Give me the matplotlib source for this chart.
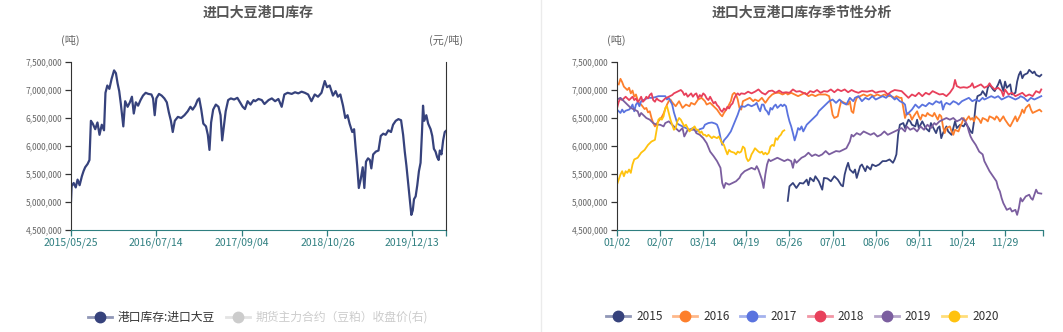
import matplotlib
matplotlib.use("Agg")
import matplotlib.pyplot as plt
import numpy as np
import pandas as pd
from matplotlib.lines import Line2D
from matplotlib.ticker import FuncFormatter

plt.rcParams["font.family"] = ["Noto Sans CJK SC", "DejaVu Sans"]

# 进口大豆港口库存, 百万吨
stock_dates = [
    "2015-05-25", "2015-05-28", "2015-06-07", "2015-06-17", "2015-06-26", "2015-07-06",
    "2015-07-17", "2015-07-25", "2015-08-02", "2015-08-14", "2015-08-23", "2015-08-30",
    "2015-09-08", "2015-09-20", "2015-10-01", "2015-10-11", "2015-10-22", "2015-11-02",
    "2015-11-09", "2015-11-18", "2015-11-28", "2015-12-09", "2015-12-21", "2015-12-30",
    "2016-01-07", "2016-01-15", "2016-01-23", "2016-02-04", "2016-02-13", "2016-02-25",
    "2016-03-07", "2016-03-17", "2016-03-26", "2016-04-05", "2016-04-16", "2016-04-28",
    "2016-05-10", "2016-05-23", "2016-06-05", "2016-06-20", "2016-06-28", "2016-07-06",
    "2016-07-14", "2016-07-27", "2016-08-09", "2016-08-22", "2016-09-03", "2016-09-13",
    "2016-09-23", "2016-10-02", "2016-10-12", "2016-10-27", "2016-11-12", "2016-11-28",
    "2016-12-14", "2016-12-27", "2017-01-07", "2017-01-20", "2017-01-31", "2017-02-08",
    "2017-02-18", "2017-02-28", "2017-03-13", "2017-03-22", "2017-03-30", "2017-04-07",
    "2017-04-17", "2017-04-30", "2017-05-13", "2017-05-23", "2017-05-31", "2017-06-08",
    "2017-06-17", "2017-06-29", "2017-07-12", "2017-07-28", "2017-08-13", "2017-08-26",
    "2017-09-08", "2017-09-19", "2017-10-02", "2017-10-16", "2017-10-31", "2017-11-08",
    "2017-11-24", "2017-12-10", "2017-12-23", "2018-01-12", "2018-01-28", "2018-02-13",
    "2018-03-01", "2018-03-17", "2018-03-30", "2018-04-15", "2018-05-05", "2018-05-21",
    "2018-06-06", "2018-06-22", "2018-07-08", "2018-07-24", "2018-08-09", "2018-08-25",
    "2018-09-10", "2018-09-27", "2018-10-13", "2018-10-24", "2018-11-06", "2018-11-22",
    "2018-12-05", "2018-12-16", "2018-12-28", "2019-01-10", "2019-01-21", "2019-02-01",
    "2019-02-11", "2019-02-24", "2019-03-05", "2019-03-12", "2019-03-20", "2019-03-28",
    "2019-04-06", "2019-04-16", "2019-04-24", "2019-05-02", "2019-05-12", "2019-05-21",
    "2019-05-28", "2019-06-06", "2019-06-19", "2019-07-02", "2019-07-13", "2019-07-25",
    "2019-08-06", "2019-08-19", "2019-09-01", "2019-09-11", "2019-09-24", "2019-10-07",
    "2019-10-20", "2019-10-30", "2019-11-07", "2019-11-15", "2019-11-23", "2019-12-01",
    "2019-12-09", "2019-12-16", "2019-12-22", "2019-12-30", "2020-01-07", "2020-01-15",
    "2020-01-23", "2020-01-30", "2020-02-04", "2020-02-10", "2020-02-20", "2020-02-29",
    "2020-03-12", "2020-03-20", "2020-03-28", "2020-04-05", "2020-04-13", "2020-04-20",
    "2020-04-26", "2020-05-04", "2020-05-12", "2020-05-20", "2020-05-26",
]
stock_mt = [
    5.01, 5.28, 5.34, 5.26, 5.40, 5.30,
    5.46, 5.55, 5.62, 5.68, 5.75, 6.45,
    6.40, 6.30, 6.42, 6.20, 6.38, 6.28,
    6.95, 7.08, 7.02, 7.20, 7.35, 7.30,
    7.12, 6.98, 6.75, 6.35, 6.80, 6.70,
    6.78, 6.88, 6.58, 6.78, 6.72, 6.82,
    6.90, 6.95, 6.93, 6.92, 6.85, 6.55,
    6.85, 6.93, 6.90, 6.85, 6.78, 6.60,
    6.45, 6.25, 6.45, 6.52, 6.50, 6.55,
    6.62, 6.70, 6.65, 6.72, 6.82, 6.85,
    6.65, 6.40, 6.35, 6.20, 5.93, 6.42,
    6.65, 6.74, 6.70, 6.55, 6.10, 6.35,
    6.62, 6.82, 6.85, 6.83, 6.86, 6.78,
    6.70, 6.66, 6.80, 6.74, 6.82, 6.80,
    6.84, 6.82, 6.75, 6.82, 6.85, 6.80,
    6.84, 6.70, 6.92, 6.95, 6.93, 6.96,
    6.94, 6.97, 6.95, 6.92, 6.80, 6.92,
    6.88, 6.95, 7.16, 7.05, 7.08, 6.90,
    6.98, 6.88, 6.92, 6.72, 6.50, 6.55,
    6.40, 6.25, 6.30, 5.98, 5.65, 5.25,
    5.40, 5.62, 5.25, 5.72, 5.78, 5.75,
    5.60, 5.85, 5.90, 5.92, 6.18, 6.22,
    6.20, 6.28, 6.25, 6.38, 6.45, 6.48,
    6.46, 6.20, 5.90, 5.65, 5.35, 5.05,
    4.77, 4.85, 5.05, 5.10, 5.30, 5.55,
    5.70, 6.25, 6.72, 6.45, 6.55, 6.40,
    6.30, 6.18, 5.95, 5.90, 5.80, 5.75,
    5.92, 5.85, 6.10, 6.25, 6.27,
]
date_ticks = ["2015-05-25", "2016-07-14", "2017-09-04", "2018-10-26", "2019-12-13"]
date_end = "2020-05-26"

# 季节性: (交易日序号, 百万吨)
season_labels = ["01/02", "02/07", "03/14", "04/19", "05/26",
                 "07/01", "08/06", "09/11", "10/24", "11/29"]
season_len = 247

s2015 = [
    (99, 5.02), (100, 5.28), (102, 5.34), (104, 5.25), (106, 5.34), (108, 5.33), (110, 5.40),
    (111, 5.30), (112, 5.43), (114, 5.37), (115, 5.46), (117, 5.37), (119, 5.22), (120, 5.43),
    (122, 5.42), (124, 5.37), (126, 5.46), (128, 5.40), (130, 5.30), (131, 5.28), (132, 5.49),
    (133, 5.61), (134, 5.70), (135, 5.58), (137, 5.52), (138, 5.58), (139, 5.43), (141, 5.64),
    (142, 5.67), (144, 5.55), (145, 5.64), (147, 5.58), (148, 5.67), (150, 5.64), (152, 5.67),
    (154, 5.73), (156, 5.73), (158, 5.76), (160, 5.70), (161, 5.76), (162, 5.85), (163, 6.20),
    (164, 6.38), (166, 6.41), (167, 6.32), (169, 6.47), (170, 6.44), (171, 6.38), (173, 6.35),
    (174, 6.47), (175, 6.32), (177, 6.44), (178, 6.38), (179, 6.32), (181, 6.26), (182, 6.41),
    (183, 6.35), (185, 6.23), (186, 6.32), (187, 6.35), (188, 6.14), (189, 6.23), (191, 6.35),
    (192, 6.26), (194, 6.20), (195, 6.32), (196, 6.44), (197, 6.32), (199, 6.38), (201, 6.35),
    (202, 6.41), (204, 6.32), (205, 6.26), (206, 6.23), (207, 6.44), (208, 6.74), (209, 6.89),
    (211, 6.92), (212, 6.98), (214, 6.89), (215, 7.04), (216, 7.10), (218, 7.01), (219, 6.98),
    (221, 7.10), (222, 7.18), (224, 6.98), (225, 7.15), (226, 7.04), (228, 7.10), (229, 6.92),
    (231, 6.95), (232, 7.15), (233, 7.27), (234, 7.33), (235, 7.21), (236, 7.27), (238, 7.30),
    (239, 7.36), (241, 7.30), (242, 7.33), (243, 7.27), (245, 7.24), (246, 7.27),
]
s2016 = [
    (1, 7.10), (2, 7.20), (3, 7.14), (4, 7.06), (5, 7.03), (6, 7.00), (7, 7.04), (8, 6.94),
    (9, 6.99), (10, 6.88), (11, 6.92), (12, 6.82), (13, 6.76), (14, 6.74), (15, 6.70), (16, 6.66),
    (17, 6.68), (18, 6.60), (19, 6.62), (20, 6.50), (21, 6.41), (22, 6.35), (23, 6.40), (24, 6.44),
    (26, 6.52), (27, 6.58), (28, 6.66), (29, 6.74), (30, 6.80), (31, 6.83), (32, 6.78), (34, 6.71),
    (36, 6.80), (38, 6.68), (40, 6.74), (42, 6.71), (43, 6.77), (45, 6.74), (47, 6.83), (49, 6.86),
    (51, 6.80), (52, 6.74), (54, 6.77), (56, 6.71), (58, 6.65), (60, 6.56), (61, 6.53), (62, 6.59),
    (64, 6.68), (66, 6.80), (67, 6.92), (68, 6.95), (69, 6.92), (70, 6.83), (71, 6.68), (72, 6.65),
    (73, 6.80), (75, 6.83), (77, 6.86), (79, 6.80), (80, 6.83), (82, 6.80), (84, 6.86), (86, 6.77),
    (88, 6.86), (90, 6.92), (92, 6.95), (94, 6.95), (96, 6.92), (98, 6.95), (99, 6.92), (101, 6.95),
    (103, 6.92), (105, 6.89), (107, 6.92), (109, 6.95), (111, 6.89), (113, 6.92), (115, 6.89),
    (117, 6.92), (119, 6.92), (121, 6.92), (123, 6.89), (124, 6.74), (125, 6.56), (126, 6.50),
    (128, 6.53), (129, 6.68), (130, 6.80), (132, 6.77), (134, 6.74), (135, 6.80), (136, 6.62),
    (137, 6.59), (138, 6.77), (139, 6.86), (141, 6.89), (143, 6.92), (145, 6.89), (147, 6.92),
    (149, 6.89), (151, 6.92), (153, 6.89), (155, 6.92), (157, 6.89), (159, 6.89), (161, 6.86),
    (162, 6.89), (164, 6.86), (165, 6.86), (166, 6.68), (167, 6.50), (168, 6.59), (170, 6.56),
    (171, 6.47), (172, 6.53), (174, 6.62), (175, 6.53), (176, 6.47), (177, 6.56), (179, 6.53),
    (180, 6.59), (181, 6.56), (183, 6.53), (184, 6.59), (185, 6.53), (186, 6.47), (187, 6.56),
    (188, 6.53), (189, 6.35), (190, 6.23), (191, 6.32), (193, 6.35), (194, 6.26), (195, 6.20),
    (196, 6.29), (198, 6.26), (199, 6.35), (200, 6.41), (201, 6.50), (202, 6.44), (204, 6.53),
    (205, 6.47), (206, 6.50), (207, 6.44), (208, 6.53), (210, 6.47), (211, 6.41), (212, 6.50),
    (214, 6.47), (215, 6.44), (216, 6.53), (218, 6.50), (219, 6.47), (220, 6.53), (221, 6.50),
    (222, 6.44), (224, 6.53), (225, 6.47), (227, 6.38), (228, 6.35), (229, 6.41), (231, 6.53),
    (232, 6.44), (234, 6.56), (235, 6.65), (236, 6.59), (237, 6.68), (239, 6.74), (240, 6.65),
    (241, 6.59), (243, 6.62), (245, 6.65), (246, 6.62),
]
s2017 = [
    (0, 6.65), (1, 6.62), (2, 6.59), (3, 6.65), (4, 6.60), (5, 6.63), (7, 6.65), (8, 6.68),
    (9, 6.74), (10, 6.62), (11, 6.74), (12, 6.78), (13, 6.71), (14, 6.80), (16, 6.83), (18, 6.86),
    (20, 6.86), (22, 6.87), (24, 6.89), (26, 6.89), (28, 6.89), (29, 6.83), (30, 6.86), (31, 6.80),
    (32, 6.74), (33, 6.60), (34, 6.50), (35, 6.40), (36, 6.38), (38, 6.35), (40, 6.32), (42, 6.29),
    (44, 6.32), (46, 6.26), (48, 6.30), (50, 6.32), (51, 6.38), (53, 6.41), (55, 6.42), (57, 6.40),
    (58, 6.38), (59, 6.30), (60, 6.15), (61, 6.02), (62, 6.10), (64, 6.17), (66, 6.26), (68, 6.41),
    (70, 6.56), (71, 6.65), (72, 6.71), (74, 6.70), (76, 6.74), (78, 6.71), (80, 6.74), (81, 6.77),
    (82, 6.68), (83, 6.62), (84, 6.74), (85, 6.74), (86, 6.65), (87, 6.62), (88, 6.56), (89, 6.68),
    (90, 6.65), (91, 6.71), (92, 6.74), (93, 6.68), (94, 6.71), (95, 6.74), (96, 6.71), (97, 6.74),
    (98, 6.71), (99, 6.56), (100, 6.44), (101, 6.35), (102, 6.23), (103, 6.10), (104, 6.20),
    (105, 6.32), (106, 6.29), (107, 6.35), (108, 6.26), (109, 6.32), (110, 6.38), (112, 6.44),
    (114, 6.50), (116, 6.56), (117, 6.62), (119, 6.68), (121, 6.74), (123, 6.80), (125, 6.83),
    (127, 6.77), (129, 6.83), (131, 6.77), (133, 6.74), (135, 6.86), (137, 6.80), (138, 6.86),
    (140, 6.89), (142, 6.80), (144, 6.86), (146, 6.83), (148, 6.89), (150, 6.83), (152, 6.86),
    (154, 6.89), (156, 6.86), (158, 6.92), (160, 6.86), (161, 6.83), (162, 6.86), (164, 6.80),
    (166, 6.77), (167, 6.74), (168, 6.56), (169, 6.59), (171, 6.65), (173, 6.74), (175, 6.68),
    (177, 6.74), (179, 6.71), (181, 6.77), (183, 6.74), (185, 6.80), (187, 6.77), (188, 6.80),
    (189, 6.65), (190, 6.74), (191, 6.77), (193, 6.74), (195, 6.80), (197, 6.77), (198, 6.74),
    (200, 6.80), (202, 6.83), (204, 6.86), (206, 6.80), (208, 6.83), (210, 6.80), (212, 6.86),
    (213, 6.83), (215, 6.86), (217, 6.89), (219, 6.86), (221, 6.89), (223, 6.83), (225, 6.86),
    (227, 6.89), (229, 6.86), (231, 6.83), (233, 6.86), (234, 6.89), (236, 6.86), (238, 6.80),
    (240, 6.86), (242, 6.83), (244, 6.86), (246, 6.89),
]
s2018 = [
    (0, 6.67), (1, 6.79), (2, 6.85), (3, 6.82), (4, 6.85), (5, 6.88), (6, 6.85), (7, 6.82),
    (8, 6.85), (9, 6.88), (10, 6.82), (11, 6.85), (12, 6.79), (13, 6.82), (14, 6.88), (15, 6.79),
    (16, 6.82), (17, 6.88), (18, 6.85), (19, 6.91), (20, 6.94), (21, 6.82), (22, 6.79), (23, 6.85),
    (24, 6.82), (26, 6.79), (27, 6.82), (28, 6.85), (30, 6.88), (32, 6.91), (33, 6.94), (35, 6.97),
    (37, 7.00), (38, 6.97), (39, 6.91), (40, 6.94), (41, 6.88), (42, 6.91), (43, 6.94), (44, 6.88),
    (45, 6.92), (46, 6.94), (47, 6.85), (48, 6.91), (49, 6.88), (50, 6.94), (51, 6.91), (52, 6.85),
    (53, 6.82), (54, 6.88), (55, 6.82), (56, 6.76), (57, 6.79), (58, 6.73), (59, 6.70), (60, 6.64),
    (61, 6.61), (62, 6.67), (63, 6.64), (64, 6.70), (65, 6.67), (66, 6.73), (67, 6.76), (68, 6.85),
    (69, 6.91), (70, 6.94), (71, 6.91), (72, 6.94), (74, 6.93), (76, 6.97), (78, 6.94), (80, 6.97),
    (82, 7.01), (84, 6.95), (86, 6.92), (88, 6.98), (90, 6.99), (92, 6.95), (94, 6.99), (96, 6.95),
    (98, 6.96), (100, 6.95), (102, 7.01), (104, 6.97), (106, 6.98), (108, 6.95), (110, 6.92),
    (112, 6.98), (114, 6.96), (116, 7.00), (118, 6.95), (120, 6.98), (122, 6.97), (124, 7.01),
    (126, 6.96), (128, 7.01), (130, 6.98), (132, 7.01), (134, 6.96), (136, 7.00), (138, 6.97),
    (140, 6.95), (142, 6.98), (145, 6.97), (148, 6.99), (150, 6.95), (152, 6.97), (155, 6.98),
    (157, 6.92), (159, 6.97), (161, 7.00), (163, 6.99), (165, 6.98), (167, 6.92), (169, 6.86),
    (171, 6.92), (173, 6.89), (175, 6.95), (177, 6.89), (179, 6.95), (181, 6.92), (183, 6.98),
    (185, 6.95), (187, 6.92), (189, 6.93), (191, 6.89), (193, 6.95), (195, 7.04), (196, 7.18),
    (197, 7.07), (199, 7.04), (201, 7.05), (203, 7.04), (205, 7.07), (206, 7.12), (207, 7.04),
    (209, 7.07), (211, 7.10), (213, 7.04), (215, 7.07), (216, 7.12), (217, 7.07), (219, 7.01),
    (221, 7.04), (223, 6.98), (224, 6.89), (225, 7.01), (227, 6.92), (229, 6.95), (231, 6.89),
    (233, 6.92), (235, 6.95), (237, 6.89), (239, 6.92), (241, 6.89), (243, 6.98), (245, 6.95),
    (246, 7.01),
]
s2019 = [
    (0, 6.83), (2, 6.86), (4, 6.80), (6, 6.74), (8, 6.68), (10, 6.65), (12, 6.62), (13, 6.53),
    (14, 6.59), (16, 6.53), (17, 6.50), (19, 6.47), (21, 6.41), (23, 6.38), (25, 6.38), (27, 6.35),
    (28, 6.41), (30, 6.44), (32, 6.38), (34, 6.32), (36, 6.26), (38, 6.32), (39, 6.17), (41, 6.29),
    (43, 6.29), (45, 6.29), (46, 6.23), (48, 6.20), (50, 6.14), (52, 6.05), (54, 5.90), (56, 5.82),
    (58, 5.73), (60, 5.61), (61, 5.34), (62, 5.25), (63, 5.34), (65, 5.31), (67, 5.34), (69, 5.37),
    (71, 5.43), (72, 5.49), (74, 5.55), (76, 5.58), (78, 5.61), (80, 5.58), (81, 5.64), (82, 5.58),
    (83, 5.49), (84, 5.40), (85, 5.25), (86, 5.49), (87, 5.67), (88, 5.76), (89, 5.73), (91, 5.76),
    (93, 5.79), (95, 5.76), (97, 5.73), (99, 5.76), (101, 5.73), (102, 5.61), (103, 5.76),
    (104, 5.70), (105, 5.73), (107, 5.79), (109, 5.82), (111, 5.88), (113, 5.82), (115, 5.85),
    (117, 5.82), (119, 5.85), (121, 5.91), (123, 5.85), (125, 5.88), (127, 5.91), (129, 5.90),
    (131, 5.93), (133, 5.96), (135, 6.08), (136, 6.20), (137, 6.17), (139, 6.23), (141, 6.20),
    (143, 6.26), (145, 6.23), (147, 6.20), (149, 6.23), (151, 6.17), (153, 6.20), (155, 6.26),
    (157, 6.20), (159, 6.23), (161, 6.26), (163, 6.29), (165, 6.32), (167, 6.26), (168, 6.35),
    (170, 6.29), (172, 6.32), (174, 6.26), (176, 6.35), (178, 6.29), (180, 6.38), (182, 6.32),
    (184, 6.41), (185, 6.38), (187, 6.44), (189, 6.47), (191, 6.50), (193, 6.47), (195, 6.50),
    (197, 6.44), (199, 6.47), (200, 6.50), (202, 6.44), (203, 6.38), (204, 6.26), (205, 6.17),
    (206, 6.11), (208, 6.02), (209, 5.96), (210, 5.90), (212, 5.85), (213, 5.73), (214, 5.67),
    (216, 5.55), (218, 5.46), (220, 5.37), (221, 5.25), (222, 5.19), (223, 5.07), (224, 4.98),
    (226, 4.86), (228, 4.89), (229, 4.83), (231, 4.86), (232, 4.77), (233, 4.89), (234, 5.07),
    (235, 5.01), (237, 5.10), (239, 5.13), (240, 5.07), (241, 5.04), (242, 5.13), (243, 5.22),
    (244, 5.16), (246, 5.15),
]
s2020 = [
    (0, 5.31), (1, 5.40), (2, 5.49), (3, 5.55), (4, 5.46), (5, 5.55), (6, 5.52), (7, 5.58),
    (8, 5.52), (9, 5.67), (10, 5.76), (12, 5.79), (14, 5.88), (16, 5.93), (18, 6.02), (20, 6.08),
    (22, 6.11), (23, 6.29), (24, 6.47), (25, 6.50), (26, 6.47), (27, 6.53), (28, 6.68), (29, 6.71),
    (30, 6.59), (31, 6.47), (32, 6.38), (33, 6.29), (34, 6.32), (35, 6.44), (36, 6.50), (37, 6.47),
    (38, 6.41), (39, 6.35), (40, 6.38), (41, 6.32), (42, 6.26), (43, 6.29), (44, 6.32), (45, 6.35),
    (46, 6.29), (47, 6.29), (48, 6.23), (49, 6.26), (50, 6.20), (51, 6.20), (52, 6.17), (53, 6.20),
    (54, 6.17), (55, 6.14), (56, 6.17), (58, 6.14), (59, 6.17), (60, 6.11), (61, 6.05), (62, 6.02),
    (63, 5.93), (64, 5.85), (65, 5.93), (66, 5.90), (68, 5.88), (69, 5.85), (70, 5.90), (71, 5.88),
    (72, 5.90), (73, 5.99), (74, 5.96), (75, 5.79), (76, 5.73), (77, 5.76), (78, 5.85), (79, 5.90),
    (80, 5.96), (81, 5.93), (82, 5.90), (83, 5.88), (84, 5.90), (85, 5.85), (86, 5.88), (87, 5.85),
    (88, 5.88), (89, 5.99), (90, 6.02), (91, 6.00), (92, 6.14), (93, 6.11), (94, 6.17), (95, 6.20),
    (96, 6.26), (97, 6.28),
]
years = ["2015", "2016", "2017", "2018", "2019", "2020"]
year_series = [s2015, s2016, s2017, s2018, s2019, s2020]
year_colors = ["#36427c", "#fd7f2c", "#5a73df", "#e8405b", "#7b5e9f", "#ffc20e"]

W, H = 1063, 332
AXIS_DARK = "#333333"
AXIS_TEAL = "#2f7f80"
LABEL_GRAY = "#666666"


def px(x, y):
    return x / W, 1 - y / H


def style_axes(ax):
    ax.spines["top"].set_visible(False)
    ax.spines["right"].set_visible(False)
    ax.spines["left"].set_color(AXIS_DARK)
    ax.spines["bottom"].set_color(AXIS_TEAL)
    ax.set_ylim(4.5e6, 7.5e6)
    ax.set_yticks(np.arange(4.5e6, 7.51e6, 5e5))
    ax.yaxis.set_major_formatter(FuncFormatter(lambda v, p: f"{v:,.0f}"))
    ax.tick_params(axis="y", labelsize=6, labelcolor=LABEL_GRAY, color=AXIS_DARK,
                   length=4, width=0.9, pad=2.5)
    ax.tick_params(axis="x", labelsize=7.5, labelcolor=AXIS_TEAL, color=AXIS_TEAL,
                   length=4, width=0.9, pad=1.5)


def legend_item(fig, x, y, color, text, text_color):
    fig.add_artist(Line2D([x / W, (x + 24) / W], [1 - y / H] * 2, color=color,
                          alpha=0.55, lw=2, transform=fig.transFigure))
    fig.add_artist(Line2D([(x + 12) / W], [1 - y / H], color=color, marker="o",
                          markersize=7.5, lw=0, transform=fig.transFigure))
    fig.text((x + 30) / W, 1 - y / H, text, color=text_color, fontsize=8.5,
             ha="left", va="center")


fig = plt.figure(figsize=(W / 100, H / 100), dpi=100)

# 左: 库存走势
ax1 = fig.add_axes([71 / W, 1 - 230 / H, 375 / W, 168 / H])
style_axes(ax1)
ax1.plot(pd.to_datetime(stock_dates), np.array(stock_mt) * 1e6,
         color=year_colors[0], lw=1.6)
ax1.set_xlim(pd.Timestamp(date_ticks[0]), pd.Timestamp(date_end))
tick_pos = list(pd.to_datetime(date_ticks)) + [pd.Timestamp(date_end)]
ax1.set_xticks(tick_pos)
ax1.set_xticklabels([d.replace("-", "/") for d in date_ticks] + [""])

ax1r = ax1.twinx()
for side in ["top", "left", "bottom"]:
    ax1r.spines[side].set_visible(False)
ax1r.spines["right"].set_color(AXIS_DARK)
ax1r.set_yticks([])

fig.text(*px(258, 13), "进口大豆港口库存", fontsize=10, fontweight="bold",
         color="#555555", ha="center", va="center")
fig.text(*px(70, 40), "(吨)", fontsize=8, color=LABEL_GRAY, ha="center", va="center")
fig.text(*px(446, 40), "(元/吨)", fontsize=8, color=LABEL_GRAY, ha="center", va="center")

legend_item(fig, 88, 317, year_colors[0], "港口库存:进口大豆", "#333333")
legend_item(fig, 226, 317, "#cccccc", "期货主力合约（豆粕）收盘价(右)", "#cccccc")

# 分隔线
fig.add_artist(Line2D([541 / W, 541 / W], [0, 1], color="#ebebeb", lw=1,
                      transform=fig.transFigure))

# 右: 季节性
ax2 = fig.add_axes([617 / W, 1 - 230 / H, 426 / W, 168 / H])
style_axes(ax2)
for series, color in zip(year_series, year_colors):
    days = [d for d, v in series]
    vals = [v * 1e6 for d, v in series]
    ax2.plot(days, vals, color=color, lw=1.3)
ax2.set_xlim(0, season_len)
season_pos = list(range(0, 25 * len(season_labels), 25)) + [season_len]
ax2.set_xticks(season_pos)
ax2.set_xticklabels(season_labels + [""])

fig.text(*px(802, 13), "进口大豆港口库存季节性分析", fontsize=10, fontweight="bold",
         color="#555555", ha="center", va="center")
fig.text(*px(616, 40), "(吨)", fontsize=8, color=LABEL_GRAY, ha="center", va="center")

for i, (yr, color) in enumerate(zip(years, year_colors)):
    legend_item(fig, 606 + 67.2 * i, 316, color, yr, "#333333")

fig.savefig("out.png", dpi=100)
